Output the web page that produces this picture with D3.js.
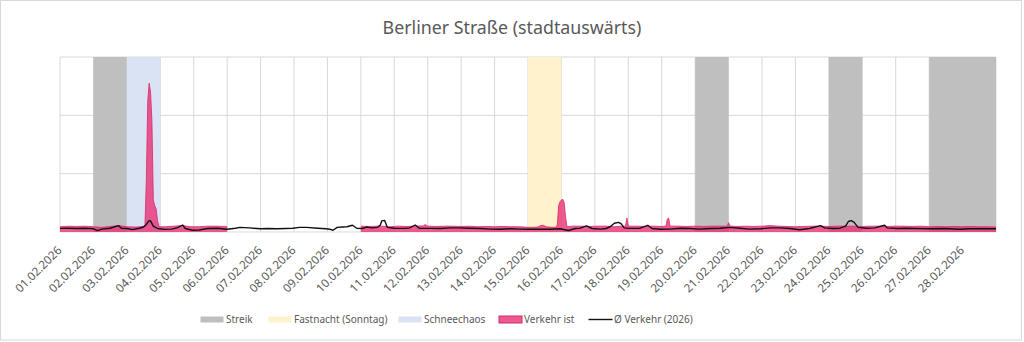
<!DOCTYPE html>
<html>
<head>
<meta charset="utf-8">
<style>
  * { margin: 0; padding: 0; }
  body { background: #fff; }
  svg text { font-family: 'Noto Sans', sans-serif; fill: #595959; }
  .grid line { stroke: #d9d9d9; stroke-width: 1; }
  .axis path, .axis line { stroke: none; }
  .axis text { font-size: 11.7px; }
  .legend text { font-size: 10px; }
</style>
</head>
<body>
<svg id="chart" width="1024" height="342"></svg>
<script src="https://cdn.jsdelivr.net/npm/d3@7"></script>
<script>
// Stunden ab 01.02.2026 00:00, Wert
const verkehrIst = [
  [0,9],[6,10],[12,9.5],[18,10],[24,9],[30,8],[36,9.5],[42,11],[48,9],[54,8.5],[58,9],[60,10],
  [61,12],[62,90],[63,225],[64,255],[65,240],[66,190],[67,55],[68,45],[69,40],[70,20],[71,10],
  [72,9],[76,9],[82,10],[88,11],[94,9],[100,9],[106,10],[112,10],[118,9.5],[120,9],
  [168,null],
  [216,10],[222,9.5],[228,10],[231,10],[237,9],[243,10],[249,9.5],[255,10],[261,10.5],[262,13],
  [264,10],[270,9.5],[276,10],[282,10],[288,9.5],[294,10],[300,9],[306,9.5],[312,9],[318,9.5],
  [324,9],[330,9],[336,8],[340,8],[343,8.5],[345,11],[347,11.5],[349,9],[353,8],[356,8],
  [357,12],[358,45],[359,52],[360,55],[361,56],[362,50],[363,25],[364,9],
  [368,10],[374,10],[380,9.5],[386,10],[392,10],[398,9],[404,10],[406,10],[407,24],[408,10],
  [414,10],[420,9.5],[426,10],[432,9.5],[435,10],[436,22],[437,24],[438,10],
  [444,10],[450,9.5],[456,10],[462,9.5],[468,10],[474,10],[479,10],[480,16],[481,10],
  [486,9.5],[492,10],[498,9.5],[504,10],[510,11],[516,10],[522,9.5],[528,9],[534,9.5],
  [540,10],[546,10],[552,9.5],[558,10],[564,10],[570,10],[576,9.5],[582,10],[588,10],
  [594,9.5],[600,10],[606,10],[612,9.5],[618,10],[624,9],[630,9.5],[636,9],[642,9.5],
  [648,9],[654,9.5],[660,9],[666,9],[672,8.5]
];

const verkehrSchnitt = [
  [0,6.3],[6,6.5],[12,6],[18,6.5],[24,5.5],[27,2.5],[30,5],[36,6.5],[42,11],[44,6.5],
  [48,6],[52,4],[57,6.5],[60,8.5],[62,13],[64,19.5],[65,19],[67,10],[70,6],[75,4.5],
  [80,5],[84,7],[88,12],[90,6],[95,3],[100,3.5],[106,6],[113,6.5],[120,4.6],[126,6.5],
  [129,8],[136,7],[144,5.5],[149,6],[156,5.5],[162,6],[167,6.5],[172,8],[177,8],[185,6.5],
  [191,5.5],[194,4.6],[196,3],[199,8],[203,8.5],[206,9],[210,11.5],[213,6.5],[217,6],
  [220,8.5],[224,7],[228,8],[230,12],[231,19],[233,20],[235,8],[240,6.5],[248,6.3],
  [251,7],[255,12],[258,6.5],[266,6.3],[273,6],[280,7],[287,7],[294,6.5],[302,6],
  [309,5],[316,4.6],[323,5.5],[330,5],[337,4.6],[345,5],[352,4.8],[359,5.5],[365,2.5],
  [370,6],[373,6.3],[378,10.5],[382,6],[388,5],[392,6],[395,9],[398,15],[401,16.5],
  [403,14],[405,7],[409,6.3],[416,6.3],[422,11.5],[425,6],[431,4.6],[438,5],[445,6.5],
  [452,6],[459,5],[467,6],[474,6.5],[481,8],[488,6.5],[495,5],[503,5.5],[510,7],[517,7],
  [524,6],[531,3.9],[538,6],[546,11],[549,7],[555,6],[560,6.5],[564,10],[566,18],
  [568,19.5],[570,17],[573,8],[579,6.5],[585,7],[592,11.5],[594,7],[601,6],[607,6.5],
  [614,6],[625,5.5],[635,6],[646,4.6],[653,5.5],[664,5.5],[672,5.5]
];

const streik = [["2026-02-02","2026-02-03"],["2026-02-20","2026-02-21"],
                ["2026-02-24","2026-02-25"],["2026-02-27","2026-03-01"]];
const fastnacht = [["2026-02-15","2026-02-16"]];
const schneechaos = [["2026-02-03","2026-02-04"]];

const yTicks = [0, 100, 200, 300];
const legendLabels = ["Streik", "Fastnacht (Sonntag)", "Schneechaos", "Verkehr ist", "Ø Verkehr (2026)"];
// Textanfang der Legendeneinträge
const legendTextX = [226, 294, 424, 524, 614];

const W = 1024, H = 342;
const m = {top: 57, right: 28, bottom: 110, left: 60};
const start = new Date(2026, 1, 1), end = new Date(2026, 2, 1);
const parse = d3.timeParse("%Y-%m-%d");
const hour = h => new Date(2026, 1, 1, h);

const svg = d3.select("#chart");

svg.append("rect")
  .attr("x", 0.5).attr("y", 0.5)
  .attr("width", W - 3).attr("height", H - 2.5)
  .attr("fill", "#fff").attr("stroke", "#d9d9d9");

svg.append("text")
  .attr("x", 512).attr("y", 34)
  .attr("text-anchor", "middle")
  .style("font-size", "17.8px")
  .text("Berliner Straße (stadtauswärts)");

const x = d3.scaleTime().domain([start, end]).range([m.left, W - m.right]);
const y = d3.scaleLinear().domain([0, 300]).range([H - m.bottom, m.top]);

const days = d3.timeDay.range(start, end);

// Gitter
const grid = svg.append("g").attr("class", "grid");
grid.selectAll(".h").data(yTicks).join("line")
  .attr("x1", x.range()[0]).attr("x2", x.range()[1])
  .attr("y1", d => y(d)).attr("y2", d => y(d));
grid.selectAll(".v").data(days.concat([end])).join("line")
  .attr("x1", d => x(d)).attr("x2", d => x(d))
  .attr("y1", y(0)).attr("y2", y(300));

// Markierte Tage
function bands(list, color) {
  svg.append("g").selectAll("rect").data(list).join("rect")
    .attr("x", d => x(parse(d[0])))
    .attr("width", d => x(parse(d[1])) - x(parse(d[0])))
    .attr("y", y(300))
    .attr("height", y(0) - y(300))
    .attr("fill", color);
}
bands(streik, "#bfbfbf");
bands(fastnacht, "#fff2cc");
bands(schneechaos, "#dae3f3");

// Verkehr ist
const istArea = d3.area()
  .defined(d => d[1] != null)
  .x(d => x(hour(d[0])))
  .y0(y(0))
  .y1(d => y(d[1]));
const istLine = d3.line()
  .defined(d => d[1] != null)
  .x(d => x(hour(d[0])))
  .y(d => y(d[1]));

svg.append("path").datum(verkehrIst)
  .attr("d", istArea)
  .attr("fill", "#e93175").attr("fill-opacity", 0.8);
svg.append("path").datum(verkehrIst)
  .attr("d", istLine)
  .attr("fill", "none").attr("stroke", "#d42a68").attr("stroke-width", 0.8);

// Durchschnitt
svg.append("path").datum(verkehrSchnitt)
  .attr("d", d3.line().x(d => x(hour(d[0]))).y(d => y(d[1])))
  .attr("fill", "none").attr("stroke", "#111").attr("stroke-width", 1.4)
  .attr("stroke-linejoin", "round");

// x-Achse
const xAxis = svg.append("g")
  .attr("class", "axis")
  .attr("transform", `translate(0,${y(0)})`)
  .call(d3.axisBottom(x).tickValues(days).tickFormat(d3.timeFormat("%d.%m.%Y")).tickSize(0));
xAxis.selectAll("text")
  .attr("text-anchor", "end")
  .attr("dy", null)
  .attr("y", 0)
  .attr("transform", "translate(2,19) rotate(-45)");

// Legende
const legend = svg.append("g").attr("class", "legend");
const legendY = 319.5;
legendLabels.forEach((label, i) => {
  const g = legend.append("g");
  const lx = legendTextX[i] - 25.5;
  if (i < 3) {
    g.append("rect").attr("x", lx).attr("y", legendY - 3).attr("width", 23).attr("height", 6)
      .attr("fill", ["#bfbfbf", "#fff2cc", "#dae3f3"][i]);
  } else if (i === 3) {
    g.append("rect").attr("x", lx + 0.5).attr("y", legendY - 3.5).attr("width", 23).attr("height", 7)
      .attr("fill", "#e93175").attr("fill-opacity", 0.8).attr("stroke", "#d42a68");
  } else {
    g.append("line").attr("x1", lx).attr("x2", lx + 24).attr("y1", legendY).attr("y2", legendY)
      .attr("stroke", "#111").attr("stroke-width", 1.4);
  }
  g.append("text").attr("x", legendTextX[i]).attr("y", legendY + 3.6).text(label);
});
</script>
</body>
</html>
